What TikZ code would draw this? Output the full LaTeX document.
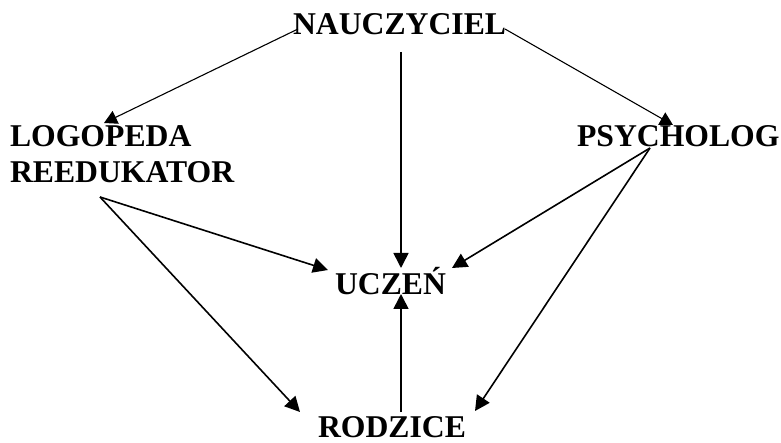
\documentclass[tikz,border=0pt]{standalone}
\usepackage{fontspec}
\setmainfont{Liberation Serif}
\usetikzlibrary{arrows.meta}
\begin{document}
\begin{tikzpicture}[x=1pt,y=-1pt,
  lbl/.style={inner sep=0pt,outer sep=0pt,anchor=base west,font=\fontsize{31.7}{36}\selectfont\bfseries},
  thinarr/.style={line width=1.1pt,-{Triangle[length=13pt,width=14pt]}},
  arr/.style={line width=1.6pt,-{Triangle[length=15pt,width=15pt]}}]
\useasboundingbox (0,0) rectangle (781,443);
\node[lbl] (nau) at (293,35) {NAUCZYCIEL};
\node[lbl] (logo) at (10,147) {LOGOPEDA};
\node[lbl] (reed) at (10,183) {REEDUKATOR};
\node[lbl] (psy) at (577,147) {PSYCHOLOG};
\node[lbl] (ucz) at (335,295) {UCZEŃ};
\node[lbl] (rod) at (318,437) {RODZICE};
% connector end points
\coordinate (nauL) at (298,29);
\coordinate (nauR) at (505,29);
\coordinate (nauB) at (401,52);
\coordinate (logoT) at (104,123);
\coordinate (psyT) at (673,125);
\coordinate (psyB) at (650,148);
\coordinate (reedB) at (100,197);
\coordinate (uczT) at (401,268);
\coordinate (uczL) at (328,270);
\coordinate (uczR) at (452,268);
\coordinate (uczB) at (401,294);
\coordinate (rodT) at (401,412);
\coordinate (rodL) at (300,412);
\coordinate (rodR) at (475,411);
\draw[thinarr] (nauL) -- (logoT);
\draw[thinarr] (nauR) -- (psyT);
\draw[arr] (nauB) -- (uczT);
\draw[arr] (psyB) -- (uczR);
\draw[arr] (psyB) -- (rodR);
\draw[arr] (reedB) -- (uczL);
\draw[arr] (reedB) -- (rodL);
\draw[arr] (rodT) -- (uczB);
\end{tikzpicture}
\end{document}
